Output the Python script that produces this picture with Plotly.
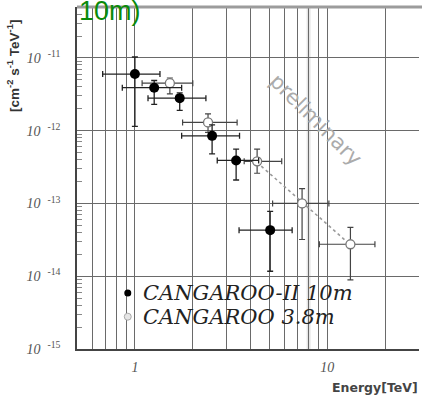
import plotly.graph_objects as go
import numpy as np

# CANGAROO-II 10m (filled)
e_10m = [1.0, 1.26, 1.71, 2.52, 3.36, 5.05]
f_10m = [6.0e-12, 3.9e-12, 2.8e-12, 8.5e-13, 3.9e-13, 4.3e-14]
e_10m_lo = [0.68, 0.86, 1.17, 1.75, 2.68, 3.48]
e_10m_hi = [1.35, 1.75, 2.34, 3.5, 4.4, 6.57]
f_10m_lo = [1.15e-12, 2.3e-12, 1.9e-12, 4.8e-13, 2.1e-13, 1.17e-14]
f_10m_hi = [1.03e-11, 4.9e-12, 3.3e-12, 1.2e-12, 5.6e-13, 7.8e-14]

# CANGAROO 3.8m (open)
e_38m = [1.52, 2.4, 4.32, 7.4, 13.2]
f_38m = [4.5e-12, 1.3e-12, 3.8e-13, 1.0e-13, 2.75e-14]
e_38m_lo = [1.09, 1.77, 3.7, 5.2, 9.1]
e_38m_hi = [2.0, 3.4, 5.8, 10.2, 17.7]
f_38m_lo = [3.2e-12, 9.5e-13, 2.6e-13, 3.2e-14, 8.9e-15]
f_38m_hi = [5.3e-12, 1.7e-12, 5.6e-13, 1.6e-13, 4.7e-14]

# preliminary power-law line (dotted)
fit_e = [4.3, 13.2]
fit_f = [3.7e-13, 2.7e-14]

x_major = [1, 10]
x_major_text = ["<i>1</i>", "<i>10</i>"]
x_minor = [0.5, 0.6, 0.7, 0.8, 0.9, 2, 3, 4, 5, 6, 7, 8, 9, 20, 30]
y_major = [1e-15, 1e-14, 1e-13, 1e-12, 1e-11]
y_major_text = ["<i>10</i>  <sup>-15</sup>", "<i>10</i>  <sup>-14</sup>", "<i>10</i>  <sup>-13</sup>",
                "<i>10</i>  <sup>-12</sup>", "<i>10</i>  <sup>-11</sup>"]
y_minor = [m * 10.0 ** d for d in range(-15, -10) for m in range(2, 10)]

legend_names = ["CANGAROO-II 10m", "CANGAROO 3.8m"]


def err(vals, lo, hi):
    v = np.array(vals)
    return dict(type="data", symmetric=False, array=list(np.array(hi) - v),
                arrayminus=list(v - np.array(lo)))


fig = go.Figure()

fig.add_trace(go.Scatter(x=fit_e, y=fit_f, mode="lines",
                         line=dict(color="#9a9a9a", width=1.6, dash="dot"),
                         showlegend=False, hoverinfo="skip"))

fig.add_trace(go.Scatter(
    x=e_38m, y=f_38m, mode="markers", showlegend=False,
    marker=dict(symbol="circle", size=9, color="white", line=dict(color="#777", width=1.3)),
    error_x=dict(**err(e_38m, e_38m_lo, e_38m_hi), color="#444", thickness=1.2, width=3),
    error_y=dict(**err(f_38m, f_38m_lo, f_38m_hi), color="#444", thickness=1.2, width=3),
))
fig.add_trace(go.Scatter(
    x=e_10m, y=f_10m, mode="markers", showlegend=False,
    marker=dict(symbol="circle", size=10, color="black"),
    error_x=dict(**err(e_10m, e_10m_lo, e_10m_hi), color="#222", thickness=1.3, width=3),
    error_y=dict(**err(f_10m, f_10m_lo, f_10m_hi), color="#222", thickness=1.3, width=3),
))

# legend symbols (text drawn as annotations for tight line spacing)
fig.add_trace(go.Scatter(x=[None], y=[None], mode="markers", name=" ",
                         marker=dict(symbol="circle", size=7, color="black")))
fig.add_trace(go.Scatter(x=[None], y=[None], mode="markers", name="  ",
                         marker=dict(symbol="circle", size=7, color="#e6e6e6",
                                     line=dict(color="#aaa", width=1))))

px_left, px_top, plot_w, plot_h = 77, 7, 342, 342


def px_x(px):
    return (px - px_left) / plot_w


def px_y(py):
    return 1 - (py - px_top) / plot_h


grid_col = "#6a6a6a"
leg_font = dict(family="DejaVu Serif", size=21, color="#222", style="italic")
fig.update_layout(
    width=422, height=398,
    margin=dict(l=77, r=3, t=7, b=49),
    paper_bgcolor="white", plot_bgcolor="white",
    xaxis=dict(type="log", range=[np.log10(0.5), np.log10(30)],
               tickvals=x_major, ticktext=x_major_text, ticks="",
               showgrid=True, gridcolor=grid_col, gridwidth=1.3,
               minor=dict(tickvals=x_minor, showgrid=True, gridcolor=grid_col, gridwidth=1.3, ticks=""),
               showline=True, linecolor="#444", linewidth=1.5, ticklabelstandoff=4,
               tickfont=dict(family="Liberation Serif", size=14, color="#555"),
               zeroline=False),
    yaxis=dict(type="log", range=[-15, -10.3],
               tickvals=y_major, ticktext=y_major_text, ticks="",
               showgrid=True, gridcolor=grid_col, gridwidth=1.3,
               minor=dict(tickvals=y_minor, ticks="inside", ticklen=5, tickcolor="#888",
                          tickwidth=1, showgrid=False),
               showline=True, linecolor="#444", linewidth=1.5, ticklabelstandoff=12,
               tickfont=dict(family="Liberation Serif", size=14, color="#555"),
               zeroline=False),
    legend=dict(x=0.09, y=px_y(276), xanchor="left", yanchor="top",
                bgcolor="rgba(0,0,0,0)", tracegroupgap=0,
                font=dict(family="Liberation Serif", size=16, color="#222")),
    shapes=[
        dict(type="line", xref="paper", yref="paper", x0=0, x1=1.02, y0=1, y1=1,
             line=dict(color="#9c9c9c", width=3)),
        dict(type="line", xref="x", yref="paper", x0=8, x1=8, y0=0, y1=1,
             line=dict(color="rgba(0,0,0,0.10)", width=4), layer="below"),
    ],
    annotations=[
        dict(text="10m)", xref="paper", yref="paper", x=0, y=1, xanchor="left", yanchor="bottom",
             yshift=-21, showarrow=False, font=dict(family="Liberation Sans", size=27, color="#0a8a0a")),
        dict(text="<b>[cm<sup>-2</sup> s<sup>-1</sup> TeV<sup>-1</sup>]</b>", xref="paper", yref="paper",
             x=px_x(13), y=px_y(66), xanchor="center", yanchor="middle", textangle=-90, showarrow=False,
             font=dict(family="Liberation Sans", size=13.5, color="#333")),
        dict(text="<b>Energy[TeV]</b>", xref="paper", yref="paper", x=px_x(420), y=px_y(387),
             xanchor="right", yanchor="middle", showarrow=False,
             font=dict(family="DejaVu Sans", size=12.5, color="#444")),
        dict(text="preliminary", xref="paper", yref="paper", x=px_x(316), y=px_y(120),
             xanchor="center", yanchor="middle", textangle=45, showarrow=False,
             font=dict(family="DejaVu Sans", size=21, color="#ababab")),
        dict(text=legend_names[0], xref="paper", yref="paper", x=px_x(141), y=px_y(293),
             xanchor="left", yanchor="middle", showarrow=False, font=leg_font),
        dict(text=legend_names[1], xref="paper", yref="paper", x=px_x(141), y=px_y(317),
             xanchor="left", yanchor="middle", showarrow=False, font=leg_font),
    ],
)

fig.write_html("out.html")
